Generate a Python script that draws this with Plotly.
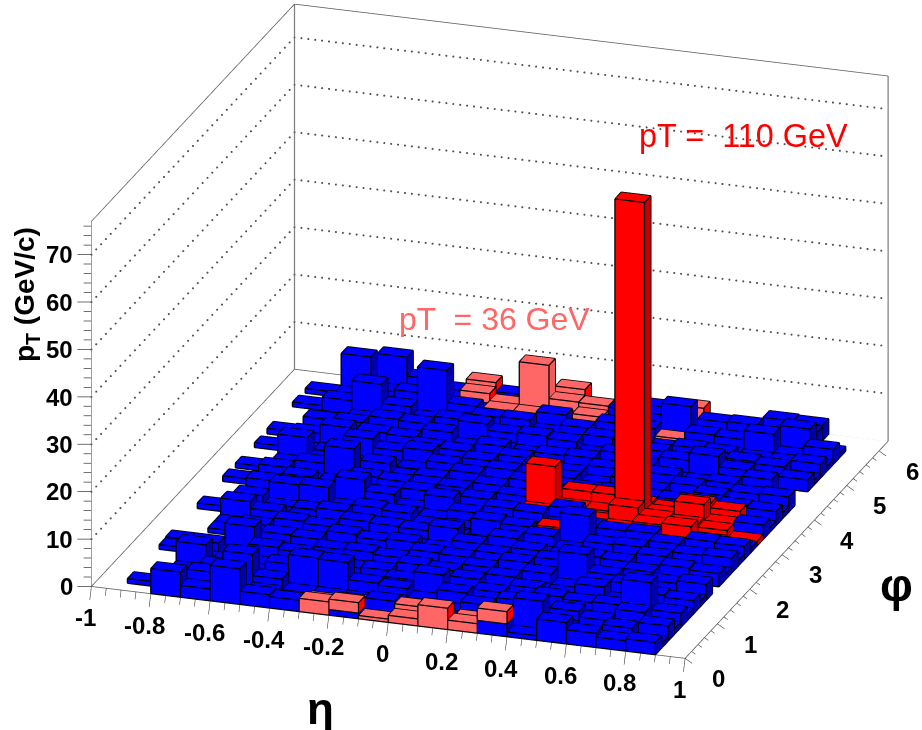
import plotly.graph_objects as go

# eta bins: -0.9 .. 0.9 step 0.1 (18), phi bins: 32 bins of 2*pi/32
eta_width = 0.1
eta_first = -0.9
phi_width = 0.19635

# blue layer, one row per phi bin (row 0 at phi=0), one column per eta bin
blue = [
 [0,5.3,2.5,7.5,2.8,2.4,0,1.2,0,0,0,0,2.7,1.0,4.5,3.0,2.2,2.6],
 [1.0,1.4,4.5,1.2,1.8,1.0,0,0.8,3.0,0,0,0,0.8,6.8,2.0,1.0,3.4,1.0],
 [0,1.0,1.2,7.7,3.2,1.0,1.0,1.0,1.4,1.0,1.0,3.0,1.2,1.6,4.0,2.8,1.0,3.2],
 [0,1.2,3.0,1.4,1.2,7.0,6.8,3.2,2.8,1.0,3.4,1.2,3.2,1.0,1.4,1.2,3.8,1.2],
 [0,5.3,1.2,2.8,3.4,1.0,1.4,1.2,3.2,5.0,1.2,2.8,1.0,3.4,3.0,3.2,8.7,3.0],
 [0,1.0,1.0,1.2,1.0,3.4,2.8,3.0,1.0,1.2,3.4,1.0,3.0,1.2,1.0,1.4,1.0,1.2],
 [1.0,2.8,1.0,3.4,3.0,1.2,1.0,1.2,3.4,3.0,1.0,3.2,1.2,1.0,3.4,1.0,3.2,2.8],
 [1.2,1.0,5.6,1.2,1.0,3.0,3.2,2.8,1.0,1.2,3.0,1.0,3.2,1.0,1.2,3.2,1.0,1.2],
 [0,0,1.0,3.2,3.0,1.2,1.0,1.2,3.2,3.0,1.2,3.4,1.0,6.6,3.0,1.0,2.8,3.4],
 [0,1.0,3.0,1.0,1.2,3.4,2.8,3.2,1.0,1.2,3.0,1.0,3.2,1.2,1.0,3.0,1.0,0],
 [0,1.0,1.2,3.2,2.8,1.0,1.2,1.0,1.0,3.0,1.2,3.0,1.0,3.2,3.0,1.2,3.2,2.8],
 [0,4.4,3.0,1.0,1.2,3.2,3.0,2.8,4.0,1.0,3.4,1.0,1.0,1.2,1.0,3.4,1.0,1.2],
 [1.2,1.0,1.2,1.0,3.2,1.0,1.2,0,0.8,0,1.0,3.2,1.0,3.0,3.2,1.0,3.0,3.2],
 [0,2.8,1.0,1.2,1.0,3.2,2.8,1.0,1.2,3.4,3.0,1.0,6.8,1.2,1.0,3.2,1.0,1.2],
 [0,1.0,4.4,4.6,1.0,1.0,1.2,1.0,3.0,1.0,1.2,0,1.5,3.0,3.2,1.0,3.0,2.8],
 [0,3.0,1.0,1.2,5.5,3.2,1.0,4.0,1.0,3.2,3.0,1.0,1.8,0,0,0,0,1.0],
 [1.2,1.2,3.2,1.0,1.0,1.2,3.2,1.0,3.0,1.2,0,3.2,0,0,0,0,0,0],
 [0,3.0,1.0,1.2,3.2,3.0,1.0,3.2,1.2,3.0,0,0,0,0,0,0,0,3.0],
 [1.0,1.0,3.2,7.0,1.0,1.2,3.2,1.0,3.0,1.2,3.2,0,0,0,0,0,0,1.0],
 [0,1.0,1.0,1.2,3.2,1.0,1.0,3.4,1.0,3.2,1.0,3.0,3.2,1.0,3.0,1.2,3.2,3.0],
 [0,5.0,1.0,1.0,1.0,1.2,3.2,1.0,3.4,1.0,3.2,1.0,1.2,3.0,1.0,3.4,1.0,1.2],
 [1.0,1.0,1.2,4.8,3.0,3.8,1.0,3.2,1.0,3.4,3.0,1.2,3.0,1.0,3.2,1.0,3.0,3.2],
 [0,3.0,5.0,1.0,1.2,3.2,3.0,1.0,3.2,1.0,1.2,3.2,1.0,3.2,1.0,3.0,1.2,0],
 [1.2,1.0,1.2,3.2,3.0,1.0,1.2,3.4,1.0,3.0,3.2,1.0,3.2,1.0,1.0,1.0,3.2,0],
 [0,3.0,3.2,1.0,1.2,3.4,1.0,1.2,1.0,1.0,1.2,3.4,1.0,3.6,5.2,3.0,1.0,2.5],
 [0,0,1.0,3.2,3.0,1.2,4.5,3.2,3.5,3.0,1.0,1.2,3.2,1.0,1.2,3.4,3.0,1.0],
 [0,0,1.0,1.2,1.0,3.2,1.0,1.2,1.0,1.2,3.2,3.0,1.0,3.2,3.0,1.0,1.2,3.0],
 [1.0,2.8,7.0,3.0,1.0,1.0,3.0,3.2,1.2,3.0,1.0,1.2,1.0,1.0,1.2,1.0,1.0,1.0],
 [0,1.0,1.2,1.0,10.0,3.2,1.0,0,3.6,1.0,3.2,3.0,0,3.2,3.0,4.9,1.0,3.2],
 [1.0,1.0,1.0,3.0,1.2,1.0,0,0,0,0,1.0,1.2,7.0,1.0,1.2,3.0,5.3,1.0],
 [0,7.7,1.0,1.2,3.0,0,0,0,0,0,3.2,3.0,1.0,3.0,3.2,1.2,3.0,0],
 [0,1.2,7.0,3.0,1.2,0,2.0,2.2,0,1.8,1.2,3.0,0,1.2,1.0,3.4,3.2,0],
]

# red layer on top of blue: eta bin, phi bin, height
red_eta = [10,13,13,14,15,15,16,16,17,11,11,12,13,14,14,14,15,16,16,13,10,12,12,11,15]
red_phi = [17,17,16,15,15,17,18,17,16,14,18,18,18,18,17,16,16,16,15,15,16,16,17,17,18]
red_val = [10,68,5,3.6,4,5.8,3.7,2.4,1,2,4,4,3,2.5,3,3.5,3,2.5,1.5,2,2,1.5,2,2,4.5]

# pink layer on top of blue: eta bin, phi bin, height
pink_eta = [6,6,7,7,8,9,9,10,11,11,12, 5,5,7,6,6,7,8,8,9,9,8,12,12]
pink_phi = [0,1,0,1,0,0,1,0,0,1,0, 31,30,30,30,29,29,31,30,30,29,29,31,28]
pink_val = [2.8,1.5,2.2,1.2,0.7,1.5,2.5,4.5,2.0,1.4,2.6, 3.9,3.0,10.5,1.5,1.5,1.5,4.7,3.5,3.4,2.5,1.5,3.8,1.5]

eta_major = [-1,-0.8,-0.6,-0.4,-0.2,0,0.2,0.4,0.6,0.8,1]
eta_labels = ["-1","-0.8","-0.6","-0.4","-0.2","0","0.2","0.4","0.6","0.8","1"]
phi_major = [0,1,2,3,4,5,6]
z_major = [0,10,20,30,40,50,60,70]

X0,X1 = -1.0,1.0
Y0,Y1 = 0.0,6.283
ZT = 77.0
COL = {"blue":("#0000ff","#0000ff","#0000b0"),
       "red":("#ff0000","#ff0000","#c80000"),
       "pink":("#ff6666","#ff6666","#ff0000"),
       "pinktall":("#ff6666","#ff6666","#f05a5a")}

vx,vy,vz,I,J,K,fc = [],[],[],[],[],[],[]
lx,ly,lz = [],[],[]
EPS = (0.0005,-0.0044,0.035)

def seg(a,b):
    for p in (a,b):
        lx.append(p[0]+EPS[0]); ly.append(p[1]+EPS[1]); lz.append(p[2]+EPS[2])
    lx.append(None); ly.append(None); lz.append(None)

def quad(p,c):
    n=len(vx)
    for q in p:
        vx.append(q[0]); vy.append(q[1]); vz.append(q[2])
    I.extend([n,n]); J.extend([n+1,n+2]); K.extend([n+2,n+3]); fc.extend([c,c])

def bar(i,k,z0,z1,name):
    x0=eta_first+i*eta_width; x1=x0+eta_width
    y0=k*phi_width; y1=y0+phi_width
    top,front,side=COL[name]
    quad([(x0,y0,z1),(x1,y0,z1),(x1,y1,z1),(x0,y1,z1)],top)
    quad([(x0,y0,z0),(x1,y0,z0),(x1,y0,z1),(x0,y0,z1)],front)
    quad([(x1,y0,z0),(x1,y1,z0),(x1,y1,z1),(x1,y0,z1)],side)
    for a,b in [((x0,y0,z1),(x1,y0,z1)),((x1,y0,z1),(x1,y1,z1)),((x1,y1,z1),(x0,y1,z1)),((x0,y1,z1),(x0,y0,z1)),
                ((x0,y0,z0),(x0,y0,z1)),((x1,y0,z0),(x1,y0,z1)),((x1,y1,z0),(x1,y1,z1)),
                ((x0,y0,z0),(x1,y0,z0)),((x1,y0,z0),(x1,y1,z0))]:
        seg(a,b)

top_of={}
for k,row in enumerate(blue):
    for i,v in enumerate(row):
        if v>0:
            bar(i,k,0,v,"blue")
        top_of[(i,k)]=v
for i,k,v in zip(pink_eta,pink_phi,pink_val):
    bar(i,k,top_of[(i,k)],top_of[(i,k)]+v,"pinktall" if v>8 else "pink")
for i,k,v in zip(red_eta,red_phi,red_val):
    bar(i,k,top_of[(i,k)],top_of[(i,k)]+v,"red")

fig=go.Figure()
fig.add_trace(go.Mesh3d(x=vx,y=vy,z=vz,i=I,j=J,k=K,facecolor=fc,flatshading=True,
    lighting=dict(ambient=1,diffuse=0,specular=0,fresnel=0,roughness=1),hoverinfo="skip",showscale=False))
fig.add_trace(go.Scatter3d(x=lx,y=ly,z=lz,mode="lines",line=dict(color="#000000",width=2.5),hoverinfo="skip",showlegend=False))

def lines(pts,color,width):
    xs,ys,zs=[],[],[]
    for a,b in pts:
        xs+= [a[0],b[0],None]; ys+=[a[1],b[1],None]; zs+=[a[2],b[2],None]
    fig.add_trace(go.Scatter3d(x=xs,y=ys,z=zs,mode="lines",line=dict(color=color,width=width),hoverinfo="skip",showlegend=False))

# frame
lines([((X0,Y0,0),(X1,Y0,0)),((X1,Y0,0),(X1,Y1,0)),((X1,Y1,0),(X0,Y1,0)),((X0,Y1,0),(X0,Y0,0)),
       ((X0,Y0,ZT),(X0,Y1,ZT)),((X0,Y1,ZT),(X1,Y1,ZT))],"#606060",1.6)
lines([((X0,Y1,0),(X0,Y1,ZT)),((X1,Y1,0),(X1,Y1,ZT))],"#808080",2.5)
lines([((X0,Y0,0),(X0,Y0,ZT))],"#808080",1.5)
# dotted grid on the two walls, drawn as small points
gx,gy,gz=[],[],[]
for z in z_major[1:]:
    for n in range(42):
        gx.append(X0); gy.append(Y0+(Y1-Y0)*n/42); gz.append(z)
    for n in range(86):
        gx.append(X0+(X1-X0)*n/86); gy.append(Y1); gz.append(z)
fig.add_trace(go.Scatter3d(x=gx,y=gy,z=gz,mode="markers",marker=dict(size=1.2,color="#505050",line=dict(width=0)),hoverinfo="skip",showlegend=False))
# ticks
def ztick(z,s): return ((X0,Y0,z),(X0-0.0424*s,Y0-0.0442*s,z))
lines([ztick(z,1.0) for z in z_major]+[ztick(z,0.55) for z in range(0,77,2) if z%10],"#404040",1.5)
def etick(e,s): return ((e,Y0,0),(e+0.037*s,Y0-0.396*s,0))
lines([etick(e,0.9) for e in eta_major]+[etick(-1+0.05*n,0.5) for n in range(41) if n%4],"#404040",1.2)
def ptick(p,s): return ((X1,p,0),(X1+0.0354*s,p-0.108*s,0))
lines([ptick(p,1.0) for p in phi_major]+[ptick(0.2*n,0.55) for n in range(31) if n%5],"#404040",1.2)

BF=dict(family="Liberation Sans",size=24,color="black")
ann=[]
for e,t in zip(eta_major,eta_labels):
    ann.append(dict(x=e,y=Y0,z=0,text="<b>%s</b>"%t,showarrow=False,xanchor="center",yanchor="middle",xshift=-6,yshift=-31,font=BF))
for p in phi_major:
    ann.append(dict(x=X1,y=p,z=0,text="<b>%d</b>"%p,showarrow=False,xanchor="center",yanchor="middle",xshift=33,yshift=-20,font=BF))
for z in z_major:
    ann.append(dict(x=X0,y=Y0,z=z,text="<b>%d</b>"%z,showarrow=False,xanchor="right",yanchor="middle",xshift=-17,font=BF))

R=4.0
G=1.943
ax=dict(visible=False,showgrid=False,zeroline=False,showspikes=False)
def label(x,y,text,size,color,anchor="center",angle=0):
    return dict(x=x/922,y=(730-y)/730,xref="paper",yref="paper",xanchor=anchor,yanchor="middle",showarrow=False,textangle=angle,
                text=text,font=dict(family="Liberation Sans",size=size,color=color))
fig.update_layout(width=922,height=730,margin=dict(l=0,r=0,t=0,b=0),paper_bgcolor="white",showlegend=False,
    scene=dict(
        domain=dict(x=[0.048,1],y=[0.072,1]),
        xaxis=dict(ax,range=[-1.05,1.05]),
        yaxis=dict(ax,range=[-0.42,Y1]),
        zaxis=dict(ax,range=[0,ZT]),
        aspectmode="manual",aspectratio=dict(x=1.0*G,y=1.033*G,z=0.595*G),
        camera=dict(projection=dict(type="orthographic"),up=dict(x=0,y=0,z=1),center=dict(x=0,y=0,z=0),
                    eye=dict(x=0.2976*R,y=-0.8845*R,z=0.36*R)),
        annotations=ann),
    annotations=[
      label(637,136,"pT =  110 GeV",32.4,"#ff0000",anchor="left"),
      label(397,319,"pT  = 36 GeV",32,"#ff6666",anchor="left"),
      label(320,708,"<b>η</b>",44,"black"),
      label(896,585,"<b>φ</b>",46,"black"),
      label(27,295,"<b>p<sub>T</sub> (GeV/c)</b>",28,"black",angle=-90),
    ])
fig.write_html("out.html",config={"displayModeBar":False},post_script="document.body.style.margin='0';")
